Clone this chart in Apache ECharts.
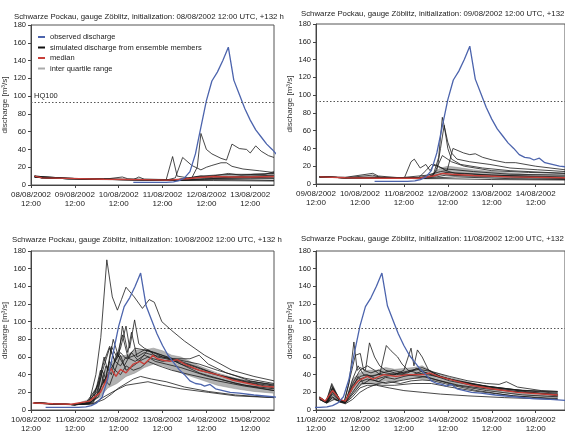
<!DOCTYPE html>
<html>
<head>
<meta charset="utf-8">
<script src="https://cdn.jsdelivr.net/npm/echarts@6/dist/echarts.min.js"></script>
<style>
html,body{margin:0;padding:0;background:#fff}
#main{width:565px;height:438px}
</style>
</head>
<body>
<div id="main"></div>
<script>
// hours since 08/08/2002 12:00 UTC, discharge in m3/s
var obs = [[56,3],[62,3],[68,3],[74,3],[78,3.5],[81,5],[84,8],[87,15],[90,35],[93,65],[96,95],[99,117],[102,127],[105,140],[108,155],[111,118],[114,102],[117,86],[120,73],[123,62],[126,54],[129,46],[132,40],[135,33],[138,30],[141,29],[143,27],[146,29],[149,24],[153,22],[157,20],[162,19],[170,17],[180,15],[190,13],[200,12],[208,11]];
var hq100 = 93;

// init 08/08
var p1m1 = [[2,10],[6,8],[20,7.5],[40,6.5],[60,6],[80,6],[88,8],[91,20],[93,58],[96,40],[99,35],[104,30],[107,28],[110,46],[114,41],[118,40],[120,36],[123,44],[126,38],[130,33],[133,31]];
var p1m2 = [[2,10],[6,8],[20,7.5],[40,6.5],[50,9],[53,7],[60,6.5],[75,6],[79,8],[83,31],[88,22],[93,17],[96,20],[99,22],[104,25],[107,25],[110,21],[116,18],[125,16],[133,14]];
var p1m3 = [[2,10],[6,8],[20,7.5],[40,6.5],[60,6],[74,6],[77.5,32],[80,10],[86,8],[92,10],[100,11],[110,12],[120,12],[133,13]];
var p1m4 = [[2,9],[6,8],[20,7.5],[40,6.5],[56,6],[59,9],[62,6.5],[80,6],[90,8],[96,9],[102,11],[108,13],[115,11],[122,12],[128,12],[133,15]];
var p1m5 = [[2,9],[20,7],[50,6],[80,5],[95,7],[110,8],[125,9],[133,10]];
var p1m6 = [[2,9],[20,7],[50,6],[80,5],[95,6],[110,6],[133,5]];
var p1m7 = [[2,10],[20,7.5],[50,6],[80,6],[92,9],[100,10],[108,9],[120,10],[133,11]];
var p1m8 = [[2,9],[20,7],[50,6],[82,5.5],[100,7],[120,7],[133,7]];
var p1m9 = [[2,10],[20,7.5],[50,6.5],[80,5.5],[93,10],[100,8],[115,9],[133,8]];
var p1m10 = [[2,9],[20,7],[50,6],[80,5],[100,5],[133,4.5]];
var p1med = [[2,10],[6,8],[20,7.5],[40,6.5],[60,6],[75,5.5],[85,7],[92,8.5],[100,9.5],[110,9],[120,9],[133,9.5]];
var p1qT = [2,20,40,60,80,90,100,110,120,133];
var p1qLo = [9,7,6,5.5,5,6.5,7,7,7,7.5];
var p1qHi = [10,7.5,6.5,6,6,9,10,11,12,13];

// init 09/08
var p2m1 = [[26,8],[40,7],[55,7],[70,6.5],[84,7],[88,10],[91,30],[93,75],[96,47],[98,35],[101,28],[108,25],[119,22],[130,18],[145,16],[160,14]];
var p2m2 = [[26,8],[40,7],[56,8],[70,6.5],[86,8],[90,15],[92,40],[94,66],[96,40],[98,28],[103,22],[115,18],[130,15],[160,12]];
var p2m3 = [[26,8],[40,7.5],[55,12],[58,9],[70,7],[85,10],[92,14],[95.6,15],[98.8,40],[104.5,35],[108,33],[111,34],[115,30],[120.4,27],[127.6,24],[133,24],[144,20],[160,16]];
var p2m4 = [[26,8],[40,7],[55,7],[72.3,7],[75.9,25],[77.7,28],[80.9,18],[84,22],[86.3,15],[88.5,22],[91,20],[95,15],[100,12],[120,10],[160,8]];
var p2m5 = [[26,8],[40,7],[60,7],[80,7],[88,9],[93,32],[98,25],[105,20],[120,15],[140,13],[160,12]];
var p2m6 = [[26,8],[40,7],[60,7],[80,7],[84,15],[87,22],[90,20],[94,17],[100,16],[110,14],[130,11],[160,10]];
var p2m7 = [[26,8],[40,7],[60,7],[80,6.5],[90,10],[95,13],[105,12],[120,10],[160,7]];
var p2m8 = [[26,8],[40,7],[60,7],[80,6],[90,8],[95,10],[110,9],[130,8],[160,6]];
var p2m9 = [[26,8],[40,7],[55,10],[60,7],[80,6],[90,7],[100,8],[130,6],[160,5]];
var p2m10 = [[26,8],[40,7],[60,6.5],[85,6],[95,6],[120,5],[160,4.5]];
var p2med = [[26,8],[40,7],[60,6.5],[80,6.5],[88,9],[93,12],[98,11],[110,9.5],[130,8],[160,7]];
var p2qT = [26,60,80,88,92,96,100,110,120,140,160];
var p2qLo = [7.5,6.5,6.5,8,10,10,9,8,7,6,5.5];
var p2qHi = [8,7,7,12,18,20,19,16,14,11,10];

// init 10/08
var p3m1 = [[50,8],[60,6.5],[72,6],[77,6.5],[80,10],[83.5,40],[86.2,82],[89.5,170],[92.5,128],[95.3,113],[97.5,125],[100,139],[104.5,128],[109,115],[112.7,125],[115.5,122],[119.6,100],[125,90],[132,78],[143,62],[158,45],[170,38],[181,33]];
var p3m2 = [[50,8],[60,6.5],[72,6],[78,8],[84,20],[88,50],[91,70],[94,55],[97,70],[100,95],[102,70],[104.7,102],[107,75],[110,70],[115,65],[120,60],[130,55],[140,48],[150,40],[165,32],[181,27]];
var p3m3 = [[50,8],[72,6],[80,8],[85,30],[88,60],[90,45],[93,80],[96,60],[98,95],[101,65],[103,88],[106,60],[110,65],[115,62],[125,58],[135,58],[140,62],[145,52],[155,42],[168,33],[181,28]];
var p3m4 = [[50,8],[72,6],[80,7],[84,15],[87,45],[89,35],[92,72],[95,60],[98,85],[101,60],[105,70],[110,68],[116,65],[122,60],[130,52],[140,45],[160,34],[181,25]];
var p3m5 = [[50,8],[72,6],[82,8],[86,25],[90,40],[94,55],[97,50],[100,60],[105,55],[110,62],[115,58],[120,55],[125,57],[130,52],[140,42],[160,30],[181,22]];
var p3m6 = [[50,8],[72,6],[82,7],[88,12],[92,18],[96,25],[100,30],[104,35],[108,38],[114,35],[122,32],[132,26],[145,21],[160,17],[181,14]];
var p3m7 = [[50,8],[72,6],[82,7],[88,15],[94,22],[100,28],[106,30],[112,32],[120,28],[130,24],[145,20],[160,16],[181,14]];
var p3m8 = [[50,8],[72,6],[80,7],[85,20],[88,35],[91,28],[94,45],[97,40],[100,50],[104,45],[108,48],[112,55],[118,50],[125,45],[135,40],[150,33],[165,27],[181,22]];
var p3m9 = [[50,8],[72,6],[80,8],[85,15],[89,50],[92,40],[95,65],[99,50],[103,65],[107,55],[112,68],[117,60],[122,58],[128,55],[136,50],[150,40],[165,33],[181,29]];
var p3m10 = [[50,8],[72,6],[82,9],[86,45],[88,30],[91,55],[94,45],[97,62],[100,45],[104,50],[108,56],[112,60],[116,55],[122,52],[130,48],[145,38],[165,28],[181,24]];
var p3m11 = [[50,8],[72,6],[78,8],[84,25],[88,55],[91,72],[94,55],[97,65],[100,58],[105,62],[110,68],[115,65],[120,62],[126,58],[133,55],[140,52],[150,45],[165,36],[181,30]];
var p3med = [[49,8],[60,7],[70,6.5],[80,10],[86,20],[89.5,35],[91.7,47],[94.5,38],[97,46],[100,42],[104,52],[107.6,55],[110,52],[113,58],[114.7,62],[117,58],[121,56],[124,55],[128,57],[132,52],[140,45],[150,40],[158,34],[167,30],[174,27],[181,26]];
var p3qT = [49,72,80,86,90,95,100,105,110,115,120,125,130,140,150,160,170,181];
var p3qLo = [7.5,6,8,15,25,30,38,42,48,52,50,46,42,35,28,24,21,19];
var p3qHi = [8,6.5,12,35,50,60,62,68,68,70,67,62,60,50,42,36,32,28];

// init 11/08
var p4m1 = [[74,15],[77.5,9],[80.6,30],[84.6,13],[87.3,8],[90,30],[92.7,77],[94.5,45],[96.2,48],[99,45],[101.2,76],[104,60],[106.8,50],[110,45],[115,42],[120,40],[130,38],[140,33],[150,28],[165,24],[185,20],[204,18]];
var p4m2 = [[74,14],[77.5,8],[80.6,28],[84.6,12],[87.3,8],[91,40],[93.5,62],[96.2,64],[98,45],[102,42],[106,45],[110,42],[116,40],[122,42],[127,47],[130,43],[136,40],[145,35],[160,28],[180,23],[204,20]];
var p4m3 = [[74,13],[78,8],[81,25],[85,12],[88,9],[92,30],[96,45],[100,50],[104,45],[106.8,40],[110.4,73],[113,67],[116.6,60],[119,52],[122.3,45],[127,42],[133,40],[140,37],[150,33],[165,27],[185,22],[204,19]];
var p4m4 = [[74,14],[78,9],[81,22],[85,11],[88,8],[92,28],[96,38],[100,40],[105,35],[110,38],[115,40],[120,45],[123.9,70],[125.5,50],[127.4,68],[130,60],[133.5,45],[140,38],[150,32],[165,27],[185,22],[204,21]];
var p4m5 = [[74,12],[78,8],[81,15],[85,9],[88,8],[92,15],[96,25],[100,28],[105,28],[112,25],[120,22],[130,20],[140,18],[155,16],[175,14],[204,12]];
var p4m6 = [[74,12],[78,8],[81,20],[85,10],[88,8],[92,20],[96,32],[100,35],[105,33],[110,30],[115,32],[120,34],[126,36],[132,38],[138,34],[148,28],[165,22],[185,17],[204,15]];
var p4m7 = [[74,14],[78,9],[81,26],[85,12],[88,9],[92,25],[95,38],[98,30],[102,35],[106,32],[110,37],[115,35],[120,38],[125,40],[130,44],[135,40],[145,33],[160,27],[180,21],[204,17]];
var p4m8 = [[74,13],[78,8],[81,18],[85,10],[88,8],[92,35],[95,50],[98,40],[103,38],[108,42],[114,45],[120,42],[128,46],[134,44],[140,38],[150,32],[170,25],[190,20],[204,16]];
var p4m9 = [[74,12],[78,8],[81,14],[85,9],[88,7],[92,12],[96,20],[100,25],[106,30],[112,32],[118,30],[124,33],[130,34],[136,33],[146,28],[160,22],[180,16],[204,13]];
var p4m10 = [[74,14],[78,9],[81,24],[85,11],[88,8],[92,25],[96,35],[100,38],[106,40],[112,40],[118,42],[124,45],[130,48],[136,43],[145,38],[155,33],[165,30],[172,29],[176,32],[182,26],[195,22],[204,21]];
var p4m11 = [[74,13],[78,8],[82,12],[88,8],[93,20],[97,30],[102,30],[108,28],[115,28],[125,30],[135,30],[145,26],[160,21],[180,16],[204,12]];
var p4med = [[74,14],[77,10],[81,22],[85,12],[88,10],[92,25],[95,33],[100,38],[103,35],[109,40],[116,38],[122,40],[131,40],[134,42],[139,38],[148,33],[157,28],[168,24],[182,20],[204,17]];
var p4qT = [74,77,81,85,88,92,96,100,105,110,115,120,125,130,135,145,160,180,204];
var p4qLo = [12,8,12,10,8,18,28,30,30,33,32,35,36,35,34,30,24,18,14];
var p4qHi = [15,10,25,12,9,35,42,45,45,48,46,47,48,50,44,37,29,22,18];

var titleDates = ['08/08/2002', '09/08/2002', '10/08/2002', '11/08/2002'];
var xMin = [0, 24, 48, 72];
var xMax = [133, 160, 181, 208];

var FONT = 'Liberation Sans';
var grids = [
  {left: 30, top: 25, width: 244, height: 160},
  {left: 316, top: 24, width: 253, height: 160},
  {left: 29, top: 251, width: 245, height: 159},
  {left: 316, top: 251, width: 253, height: 159}
];
var titlePos = [[9, 8], [296, 5], [7, 231], [296, 230]];

var panels = [
  {members: [p1m1,p1m2,p1m3,p1m4,p1m5,p1m6,p1m7,p1m8,p1m9,p1m10], med: p1med, qT: p1qT, qLo: p1qLo, qHi: p1qHi},
  {members: [p2m1,p2m2,p2m3,p2m4,p2m5,p2m6,p2m7,p2m8,p2m9,p2m10], med: p2med, qT: p2qT, qLo: p2qLo, qHi: p2qHi},
  {members: [p3m1,p3m2,p3m3,p3m4,p3m5,p3m6,p3m7,p3m8,p3m9,p3m10,p3m11], med: p3med, qT: p3qT, qLo: p3qLo, qHi: p3qHi},
  {members: [p4m1,p4m2,p4m3,p4m4,p4m5,p4m6,p4m7,p4m8,p4m9,p4m10,p4m11], med: p4med, qT: p4qT, qLo: p4qLo, qHi: p4qHi}
];

function dayLabel(v) {
  if (v % 24 !== 0) return '';
  var d = 8 + v / 24;
  return (d < 10 ? '0' + d : d) + '/08/2002\n12:00';
}

// polygon between lower and upper quartile, drawn once per panel
function bandRenderer(p) {
  return function (params, api) {
    if (params.dataIndex !== 0) return;
    var pts = [];
    for (var i = 0; i < p.qT.length; i++) pts.push(api.coord([p.qT[i], p.qLo[i]]));
    for (var j = p.qT.length - 1; j >= 0; j--) pts.push(api.coord([p.qT[j], p.qHi[j]]));
    return {type: 'polygon', shape: {points: pts}, style: {fill: '#b2b2b2', stroke: '#8a8a8a', lineWidth: 0.5}};
  };
}

var titles = [], xAxes = [], yAxes = [], series = [];

panels.forEach(function (p, k) {
  titles.push({
    text: 'Schwarze Pockau, gauge Zöblitz, initialization: ' + titleDates[k] + ' 12:00 UTC, +132 h',
    left: titlePos[k][0], top: titlePos[k][1],
    textStyle: {fontFamily: FONT, fontSize: 7.8, fontWeight: 'normal', color: '#222'}
  });
  xAxes.push({
    type: 'value', gridIndex: k, min: xMin[k], max: xMax[k], interval: 24,
    axisLine: {lineStyle: {color: '#444', width: 1}},
    axisTick: {show: true, length: 3, lineStyle: {color: '#444'}},
    axisLabel: {formatter: dayLabel, fontFamily: FONT, fontSize: 8, color: '#222', lineHeight: 9, margin: 5, showMaxLabel: false},
    splitLine: {show: false}
  });
  yAxes.push({
    type: 'value', gridIndex: k, min: 0, max: 180, interval: 20,
    name: 'discharge [m³/s]', nameLocation: 'middle', nameGap: 22, nameRotate: 90,
    nameTextStyle: {fontFamily: FONT, fontSize: 8, color: '#333'},
    axisLine: {show: true, lineStyle: {color: '#444', width: 1}},
    axisTick: {show: true, length: 3, lineStyle: {color: '#444'}},
    axisLabel: {fontFamily: FONT, fontSize: 7.5, color: '#222', margin: 5},
    splitLine: {show: false}
  });

  series.push({
    type: 'custom', name: 'inter quartile range', xAxisIndex: k, yAxisIndex: k, silent: true,
    data: p.qT.map(function (t, j) { return [t, p.qLo[j], p.qHi[j]]; }),
    encode: {x: 0, y: [1, 2]},
    itemStyle: {color: '#aaaaaa'},
    renderItem: bandRenderer(p), z: 1
  });
  p.members.forEach(function (m) {
    series.push({
      type: 'line', name: 'simulated discharge from ensemble members', xAxisIndex: k, yAxisIndex: k,
      symbol: 'none', data: m, itemStyle: {color: '#1a1a1a'},
      lineStyle: {color: '#1a1a1a', width: 0.8}, z: 2
    });
  });
  series.push({
    type: 'line', name: 'median', xAxisIndex: k, yAxisIndex: k, symbol: 'none', data: p.med,
    itemStyle: {color: '#c8403a'}, lineStyle: {color: '#c8403a', width: 1.4}, z: 3
  });
  series.push({
    type: 'line', name: 'observed discharge', xAxisIndex: k, yAxisIndex: k, symbol: 'none', data: obs,
    itemStyle: {color: '#4c64ad'}, lineStyle: {color: '#4c64ad', width: 1.3}, z: 4,
    markLine: {
      silent: true, symbol: 'none', animation: false,
      lineStyle: {type: [1.5, 2], color: '#555', width: 1},
      label: k === 0 ? {show: true, formatter: 'HQ100', position: 'insideStartTop', fontFamily: FONT, fontSize: 7.5, color: '#222', distance: [3, 2]} : {show: false},
      data: [{yAxis: hq100}]
    }
  });
});

var chart = echarts.init(document.getElementById('main'), null, {renderer: 'canvas'});
chart.setOption({
  animation: false,
  backgroundColor: '#fff',
  title: titles,
  legend: {
    left: 33, top: 28, orient: 'vertical', itemWidth: 7, itemHeight: 2, itemGap: 2.5,
    textStyle: {fontFamily: FONT, fontSize: 7.5, color: '#222'},
    data: [
      {name: 'observed discharge', icon: 'rect', itemStyle: {color: '#4c64ad'}},
      {name: 'simulated discharge from ensemble members', icon: 'rect', itemStyle: {color: '#111'}},
      {name: 'median', icon: 'rect', itemStyle: {color: '#c8403a'}},
      {name: 'inter quartile range', icon: 'rect', itemStyle: {color: '#aaaaaa'}}
    ]
  },
  grid: grids.map(function (g) {
    return {left: g.left, top: g.top, width: g.width, height: g.height, show: true, borderColor: '#555', borderWidth: 1, backgroundColor: 'transparent'};
  }),
  xAxis: xAxes,
  yAxis: yAxes,
  series: series
});
</script>
</body>
</html>
